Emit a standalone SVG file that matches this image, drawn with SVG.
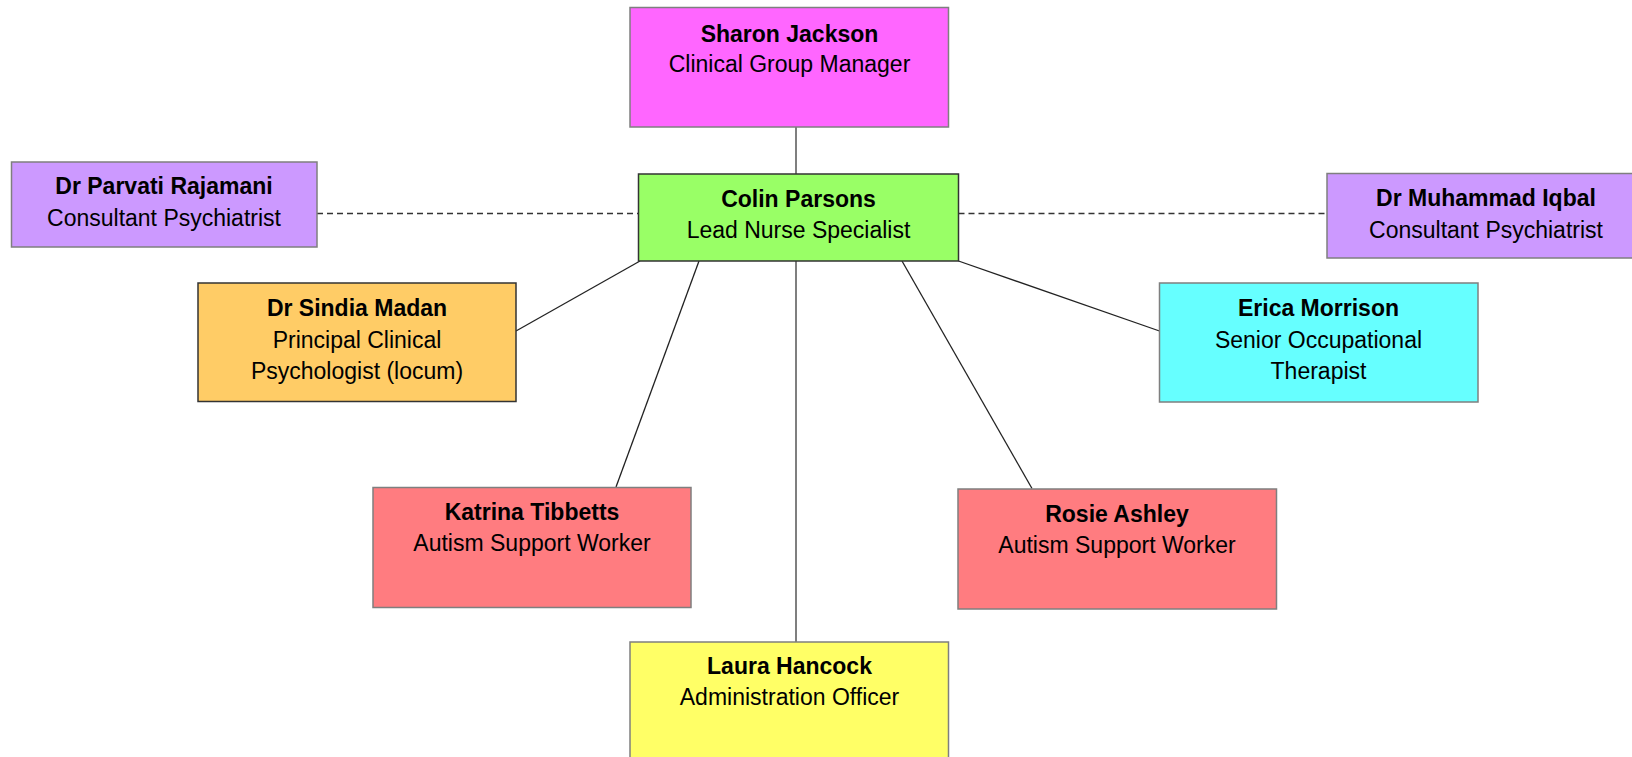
<svg xmlns="http://www.w3.org/2000/svg" width="1632" height="757" viewBox="0 0 1632 757">
<style>
.box{stroke:#7f7f7f;stroke-width:1.5}
.dark{stroke:#333333}
text{font-family:"Liberation Sans",Arial,sans-serif;font-size:23px;fill:#000;text-anchor:middle}
.n{font-weight:bold}
.c{stroke:#222;stroke-width:1.3;fill:none}
.g{stroke:#555;stroke-width:1.5;fill:none}
.d{stroke:#333;stroke-width:1.5;stroke-dasharray:6 4;fill:none}
</style>
<rect width="1632" height="757" fill="#ffffff"/>
<g id="connectors">
<line class="g" x1="796" y1="127" x2="796" y2="174"/>
<line class="g" x1="796" y1="261" x2="796" y2="642"/>
<line class="d" x1="317" y1="213.5" x2="638.5" y2="213.5"/>
<line class="d" x1="958.5" y1="213.5" x2="1327" y2="213.5"/>
<line class="c" x1="640" y1="261" x2="516" y2="331"/>
<line class="c" x1="699" y1="261" x2="616" y2="487"/>
<line class="c" x1="958.5" y1="261" x2="1159.5" y2="331"/>
<line class="c" x1="902" y1="261" x2="1032" y2="488.5"/>
</g>
<g id="sharon">
<rect class="box" x="630" y="7.5" width="318.5" height="119.5" fill="#FF66FF"/>
<text class="n" x="789.5" y="41.5">Sharon Jackson</text>
<text x="789.5" y="72">Clinical Group Manager</text>
</g>
<g id="colin">
<rect class="box dark" x="638.5" y="174" width="320" height="87" fill="#99FF66"/>
<text class="n" x="798.5" y="206.5">Colin Parsons</text>
<text x="798.5" y="238">Lead Nurse Specialist</text>
</g>
<g id="parvati">
<rect class="box" x="11.5" y="162" width="305.5" height="85" fill="#CC99FF"/>
<text class="n" x="164" y="194">Dr Parvati Rajamani</text>
<text x="164" y="226">Consultant Psychiatrist</text>
</g>
<g id="iqbal">
<rect class="box" x="1327" y="173.5" width="318" height="84.5" fill="#CC99FF"/>
<text class="n" x="1486" y="206">Dr Muhammad Iqbal</text>
<text x="1486" y="237.5">Consultant Psychiatrist</text>
</g>
<g id="madan">
<rect class="box dark" x="198" y="283" width="318" height="118.5" fill="#FFCC66"/>
<text class="n" x="357" y="316">Dr Sindia Madan</text>
<text x="357" y="347.5">Principal Clinical</text>
<text x="357" y="379">Psychologist (locum)</text>
</g>
<g id="erica">
<rect class="box" x="1159.5" y="283" width="318.5" height="119" fill="#66FFFF"/>
<text class="n" x="1318.5" y="316">Erica Morrison</text>
<text x="1318.5" y="347.5">Senior Occupational</text>
<text x="1318.5" y="379">Therapist</text>
</g>
<g id="katrina">
<rect class="box" x="373" y="487.5" width="318" height="120" fill="#FF7C80"/>
<text class="n" x="532" y="519.5">Katrina Tibbetts</text>
<text x="532" y="551">Autism Support Worker</text>
</g>
<g id="rosie">
<rect class="box" x="958" y="489" width="318.5" height="120" fill="#FF7C80"/>
<text class="n" x="1117" y="521.5">Rosie Ashley</text>
<text x="1117" y="553">Autism Support Worker</text>
</g>
<g id="laura">
<rect class="box" x="630" y="642" width="318.5" height="130" fill="#FFFF66"/>
<text class="n" x="789.5" y="673.5">Laura Hancock</text>
<text x="789.5" y="705">Administration Officer</text>
</g>
</svg>
